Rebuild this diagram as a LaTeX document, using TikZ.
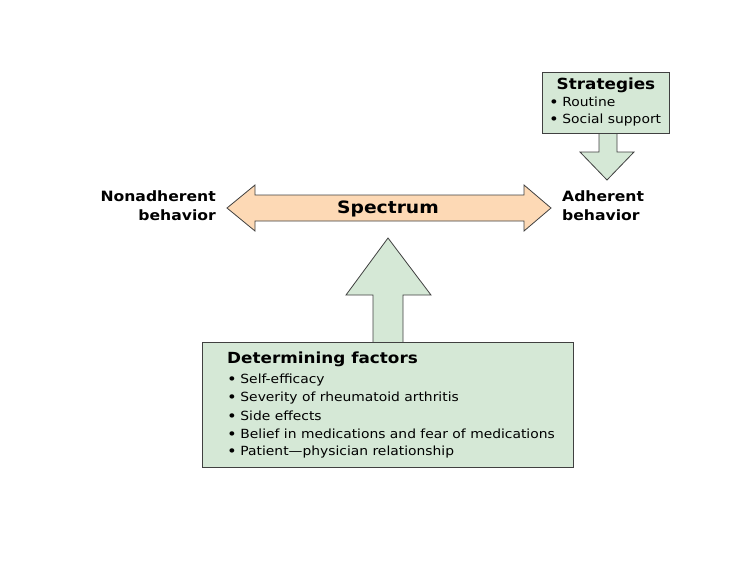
\documentclass[tikz,border=0pt]{standalone}
\usepackage{fontspec}
\setmainfont[FakeStretch=1.1]{DejaVu Sans}
\definecolor{boxgreen}{HTML}{D5E8D6}
\definecolor{spec}{HTML}{FDD9B5}
\definecolor{edge}{HTML}{404040}
\newcommand{\bul}{\raisebox{-1.2pt}{\fontsize{15}{18}\selectfont\textbullet}\hspace{3.5pt}}
\begin{document}
\begin{tikzpicture}[x=1pt,y=-1pt,
  outl/.style={draw=edge,line width=0.8pt,line join=miter},
  body/.style={font=\fontsize{12.6}{18}\selectfont,anchor=west,inner sep=0pt},
  title/.style={font=\bfseries\fontsize{15.3}{18}\selectfont,inner sep=0pt},
  side/.style={font=\bfseries\fontsize{14.2}{19}\selectfont,inner sep=0pt,align=left}]
\useasboundingbox (0,0) rectangle (729,582);
% Strategies box with down arrow
\path[outl,fill=boxgreen] (599,133) -- (599,152) -- (580,152) -- (607,180) -- (634,152) -- (617,152) -- (617,133) -- cycle;
\node[outl,fill=boxgreen,minimum width=127pt,minimum height=61pt,anchor=north west,inner sep=0pt] (strat) at (542,72) {};
\node[title] (strattitle) at (606,85) {Strategies};
\node[body] (s1) at (549,102) {\bul Routine};
\node[body] (s2) at (549,120) {\bul Social support};
% Spectrum double arrow
\path[outl,fill=spec] (227,208) -- (255,185) -- (255,195) -- (524,195) -- (524,185) -- (551,208) -- (524,231) -- (524,221) -- (255,221) -- (255,231) -- cycle;
\node[title,font=\bfseries\fontsize{17}{18}\selectfont] (spectrum) at (388,209) {Spectrum};
\node[side,anchor=north east,align=right] (non) at (216,191) {Nonadherent\\behavior};
\node[side,anchor=north west] (adh) at (562,191) {Adherent\\behavior};
% Up arrow and determining factors box
\path[outl,fill=boxgreen] (373,343) -- (373,295) -- (346,295) -- (388,238) -- (431,295) -- (403,295) -- (403,343) -- cycle;
\node[outl,fill=boxgreen,minimum width=371pt,minimum height=125pt,anchor=north west,inner sep=0pt] (det) at (202,342) {};
\node[title,anchor=west] (dettitle) at (227,359) {Determining factors};
\node[body] (d1) at (227,380) {\bul Self-efficacy};
\node[body] (d2) at (227,398) {\bul Severity of rheumatoid arthritis};
\node[body] (d3) at (227,416) {\bul Side effects};
\node[body] (d4) at (227,434) {\bul Belief in medications and fear of medications};
\node[body] (d5) at (227,452) {\bul Patient—physician relationship};
\end{tikzpicture}
\end{document}
